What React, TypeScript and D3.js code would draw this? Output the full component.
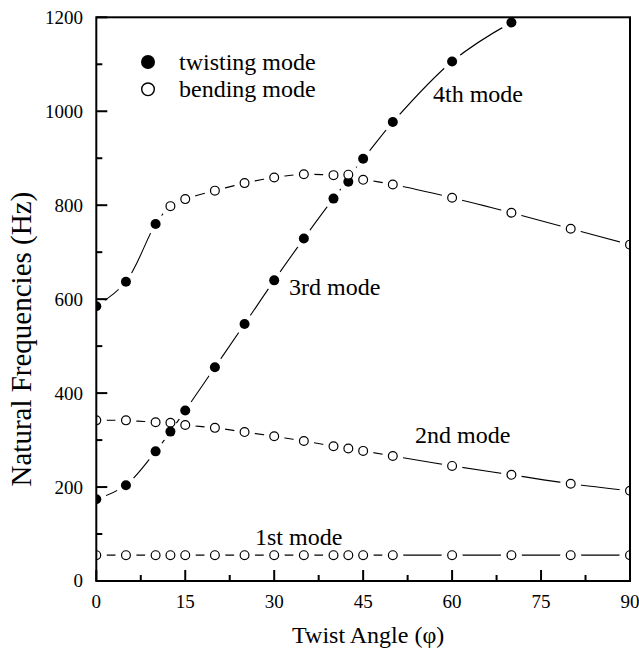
import React from "react";
import * as d3 from "d3";

// ---- data ----
const angles = [0, 5, 10, 12.5, 15, 20, 25, 30, 35, 40, 42.5, 45, 50, 60, 70, 80, 90];
const mode1 = [55, 55, 55, 55, 55, 55, 55, 55, 55, 55, 55, 55, 55, 55, 55, 55, 55];
const mode1Kind = "bbbbbbbbbbbbbbbbb";
const mode2 = [342, 342, 338, 337, 332, 326, 317, 308, 298, 287, 282, 277, 266, 245, 226, 207, 192];
const mode2Kind = "bbbbbbbbbbbbbbbbb";
const mode3 = [174, 204, 276, 318, 363, 455, 547, 640, 729, 814, 850, 854, 844, 816, 784, 750, 716];
const mode3Kind = "tttttttttttbbbbbb";
const mode4Angles = [0, 5, 10, 12.5, 15, 20, 25, 30, 35, 40, 42.5, 45, 50, 60, 70];
const mode4 = [585, 637, 760, 798, 813, 831, 847, 859, 866, 864, 865, 899, 977, 1106, 1189];
const mode4Kind = "tttbbbbbbbbtttt";
// the fitted 4th-mode line continues past the last point and leaves the frame
const mode4TailAngle = [75];
const mode4Tail = [1218];

const xTicks = [0, 15, 30, 45, 60, 75, 90];
const xMinor = [7.5, 22.5, 37.5, 52.5, 67.5, 82.5];
const yTicks = [0, 200, 400, 600, 800, 1000, 1200];
const yMinor = [100, 300, 500, 700, 900, 1100];

const legendItems = ["twisting mode", "bending mode"];
const modeLabels = ["1st mode", "2nd mode", "3rd mode", "4th mode"];

type Pt = { a: number; f: number; k: string };
const mk = (as: number[], fs: number[], kind: string): Pt[] =>
  as.map((a, i) => ({ a, f: fs[i], k: kind[i] }));

const curves: { pts: Pt[]; extra: Pt[] }[] = [
  { pts: mk(angles, mode1, mode1Kind), extra: [] },
  { pts: mk(angles, mode2, mode2Kind), extra: [] },
  { pts: mk(angles, mode3, mode3Kind), extra: [] },
  { pts: mk(mode4Angles, mode4, mode4Kind), extra: mk(mode4TailAngle, mode4Tail, "n") },
];

const FONT = "'Liberation Serif', 'Times New Roman', serif";

export default function App() {
  const W = 639, H = 652;
  const L = 96.3, R = 630, T = 17.3, B = 581;
  const x = d3.scaleLinear().domain([0, 90]).range([L, R]);
  const y = d3.scaleLinear().domain([0, 1200]).range([B, T]);
  const line = d3
    .line<Pt>()
    .x((d) => x(d.a))
    .y((d) => y(d.f))
    .curve(d3.curveCatmullRom.alpha(0.5));
  const gap = 10.5;
  const rFill = 5, rOpen = 4.4;

  return (
    <svg width={W} height={H} style={{ position: "absolute", left: 0, top: 0, background: "#fff" }}>
      <defs>
        <clipPath id="plot">
          <rect x={L} y={T} width={R - L} height={B - T} />
        </clipPath>
        {curves.map((c, i) => (
          <mask id={`m${i}`} key={i} maskUnits="userSpaceOnUse" x={0} y={0} width={W} height={H}>
            <rect x={0} y={0} width={W} height={H} fill="#fff" />
            {c.pts.map((p, j) => (
              <circle key={j} cx={x(p.a)} cy={y(p.f)} r={gap} fill="#000" />
            ))}
          </mask>
        ))}
      </defs>
      <rect x={0} y={0} width={W} height={H} fill="#fff" />
      <g clipPath="url(#plot)">
        {curves.map((c, i) => (
          <g key={i} mask={`url(#m${i})`}>
            <path d={line([...c.pts, ...c.extra]) || ""} fill="none" stroke="#000" strokeWidth={1.1} />
          </g>
        ))}
        {curves.map((c, i) =>
          c.pts.map((p, j) =>
            p.k === "t" ? (
              <circle key={`${i}-${j}`} cx={x(p.a)} cy={y(p.f)} r={rFill} fill="#000" />
            ) : (
              <circle key={`${i}-${j}`} cx={x(p.a)} cy={y(p.f)} r={rOpen} fill="#fff" stroke="#000" strokeWidth={1.2} />
            )
          )
        )}
      </g>

      {/* ticks */}
      <g stroke="#000" strokeWidth={2}>
        {xTicks.map((t) => (
          <line key={`xt${t}`} x1={x(t)} x2={x(t)} y1={B} y2={B - 11} />
        ))}
        {xMinor.map((t) => (
          <line key={`xm${t}`} x1={x(t)} x2={x(t)} y1={B} y2={B - 6} />
        ))}
        {yTicks.map((t) => (
          <line key={`yt${t}`} x1={L} x2={L + 11} y1={y(t)} y2={y(t)} />
        ))}
        {yMinor.map((t) => (
          <line key={`ym${t}`} x1={L} x2={L + 6} y1={y(t)} y2={y(t)} />
        ))}
      </g>
      <rect x={L} y={T} width={R - L} height={B - T} fill="none" stroke="#000" strokeWidth={2} />

      {/* tick labels */}
      <g fontFamily={FONT} fontSize={19} fill="#000">
        {xTicks.map((t) => (
          <text key={`xl${t}`} x={x(t)} y={608} textAnchor="middle">
            {t}
          </text>
        ))}
        {yTicks.map((t) => (
          <text key={`yl${t}`} x={83} y={y(t)} dy="0.34em" textAnchor="end">
            {t}
          </text>
        ))}
      </g>

      {/* axis titles */}
      <text x={(L + R) / 2 + 5} y={643} textAnchor="middle" fontFamily={FONT} fontSize={24}>
        Twist Angle (φ)
      </text>
      <text
        transform={`translate(31,${(T + B) / 2 + 40}) rotate(-90)`}
        textAnchor="middle"
        fontFamily={FONT}
        fontSize={29}
      >
        Natural Frequencies (Hz)
      </text>

      {/* legend */}
      <circle cx={148} cy={62} r={7} fill="#000" />
      <circle cx={148} cy={89.3} r={6.3} fill="#fff" stroke="#000" strokeWidth={1.4} />
      <text x={179} y={70} fontFamily={FONT} fontSize={24}>
        {legendItems[0]}
      </text>
      <text x={179} y={97} fontFamily={FONT} fontSize={24}>
        {legendItems[1]}
      </text>

      {/* mode labels */}
      <g fontFamily={FONT} fontSize={24}>
        <text x={255} y={545}>{modeLabels[0]}</text>
        <text x={415} y={443}>{modeLabels[1]}</text>
        <text x={289} y={295}>{modeLabels[2]}</text>
        <text x={433} y={102}>{modeLabels[3]}</text>
      </g>
    </svg>
  );
}
